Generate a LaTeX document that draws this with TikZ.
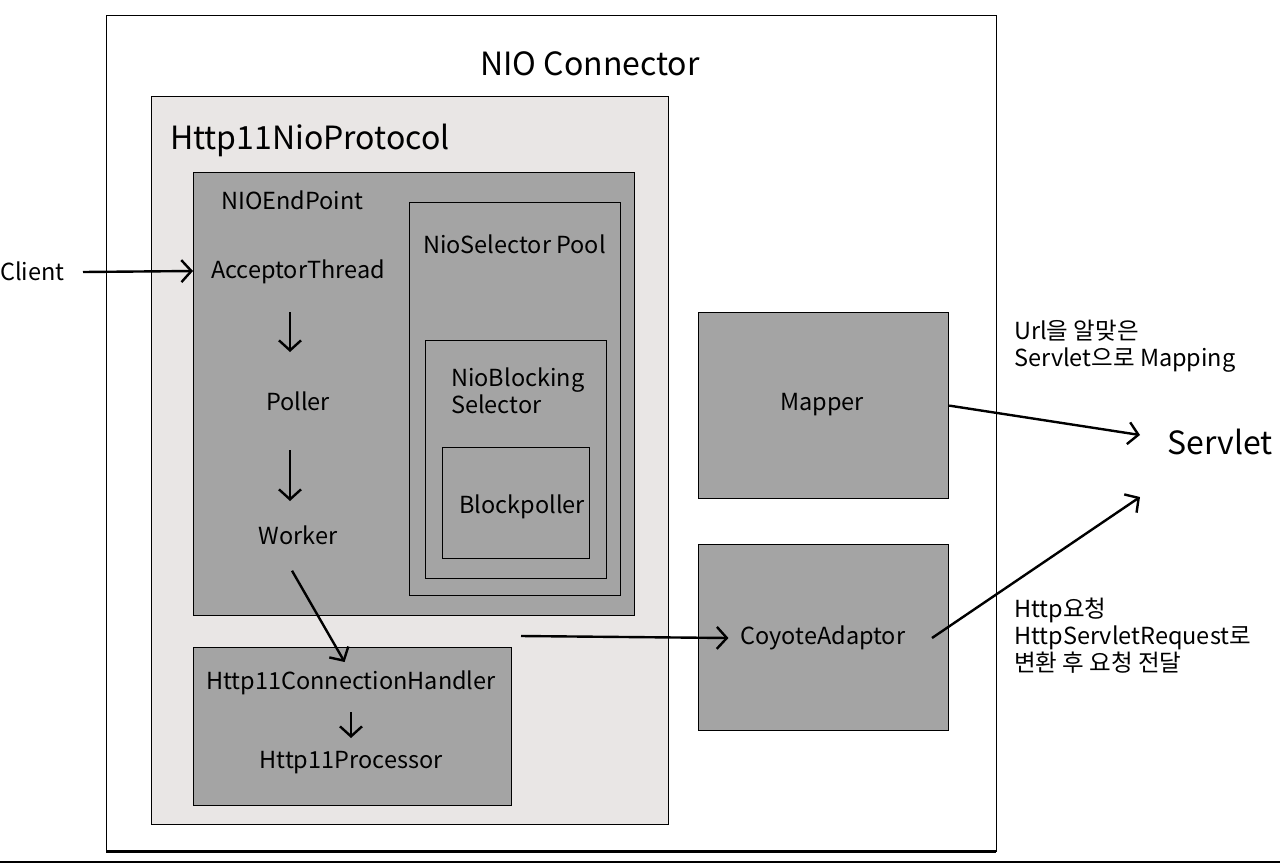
\documentclass[tikz,border=0pt]{standalone}
\usepackage{fontspec}
\setmainfont{Noto Sans CJK KR}
\usetikzlibrary{positioning,arrows.meta}
\definecolor{paleg}{HTML}{E9E6E5}
\definecolor{darkg}{HTML}{A4A4A4}
\tikzset{
  box/.style={draw=black,line width=1.2pt,anchor=north west,inner sep=0pt},
  txt/.style={inner sep=0pt,font=\fontsize{23.5}{27}\selectfont},
  big/.style={inner sep=0pt,font=\fontsize{32}{36}\selectfont},
  side/.style={inner sep=0pt,align=left,anchor=west,font=\fontsize{23.5}{27}\selectfont},
  flow/.style={->,line width=2.4pt}
}
\begin{document}
\begin{tikzpicture}[x=1pt,y=-1pt,>={Straight Barb[length=10pt,width=22pt]}]
\useasboundingbox (0,0) rectangle (1280,865);
\fill[white] (0,0) rectangle (1280,865);
\draw[line width=2pt](0,862)--(1280,862);
\node[box,fill=white,minimum width=890,minimum height=836](conn) at (106,15){};
\draw[line width=3pt](106,851)--(996,851);
\node[big] (conntxt) at (590,64){NIO Connector};
\node[box,fill=paleg,minimum width=517,minimum height=728](proto) at (151,96){};
\node[big,anchor=west] (prototxt) at (170,140){Http11NioProtocol};
\node[box,fill=darkg,minimum width=441,minimum height=443](endpoint) at (193,172){};
\node[txt,anchor=west] (eptxt) at (221,200){NIOEndPoint};
\node[box,fill=darkg,minimum width=211,minimum height=393](pool) at (409,202){};
\node[txt,anchor=west] (pooltxt) at (423,244){NioSelector Pool};
\node[box,fill=darkg,minimum width=181,minimum height=238](bsel) at (425,340){};
\node[txt,anchor=west,align=left] (bseltxt) at (451,391){NioBlocking\\Selector};
\node[box,fill=darkg,minimum width=147,minimum height=111](bpoll) at (442,447){};
\node[txt,anchor=west] (bpolltxt) at (459,507){Blockpoller};
\node[txt] (acc) at (298,272){AcceptorThread};
\node[txt] (poller) at (298,401){Poller};
\node[txt] (worker) at (298,535){Worker};
\node[box,fill=darkg,minimum width=318,minimum height=158](handler) at (193,647){};
\node[txt] (hdltxt) at (351,683){Http11ConnectionHandler};
\node[txt] (proc) at (351,763){Http11Processor};
\node[box,fill=darkg,minimum width=250,minimum height=186](mapper) at (698,312){};
\node[txt] (maptxt) at (822,405){Mapper};
\node[box,fill=darkg,minimum width=250,minimum height=186](coyote) at (698,544){};
\node[txt] (coytxt) at (823,638){CoyoteAdaptor};
\node[txt,anchor=west] (client) at (0,271){Client};
\node[big,anchor=west] (servlet) at (1167,442){Servlet};
\node[side] (maplbl) at (1014,346){Url을 알맞은\\Servlet으로 Mapping};
\node[side] (coylbl) at (1014,636){Http요청\\HttpServletRequest로\\변환 후 요청 전달};
\coordinate (hdlout) at (521,636);
\coordinate (coyout) at (932,638);
% arrows
\draw[flow](83,272)--(client.east -| endpoint.west);
\draw[flow](290,312)--(290,352);
\draw[flow](290,450)--(290,501);
\draw[flow]([xshift=-6pt,yshift=-26pt]worker.south)--([xshift=-8pt,yshift=-15pt]handler.north);
\draw[flow](351,712)--(351,738);
\draw[flow](hdlout)--([xshift=-12pt]coytxt.west);
\draw[flow](mapper.east)--([xshift=-27pt,yshift=7pt]servlet.west);
\draw[flow](coyout)--([xshift=-27pt,yshift=-55pt]servlet.west);
\end{tikzpicture}
\end{document}
